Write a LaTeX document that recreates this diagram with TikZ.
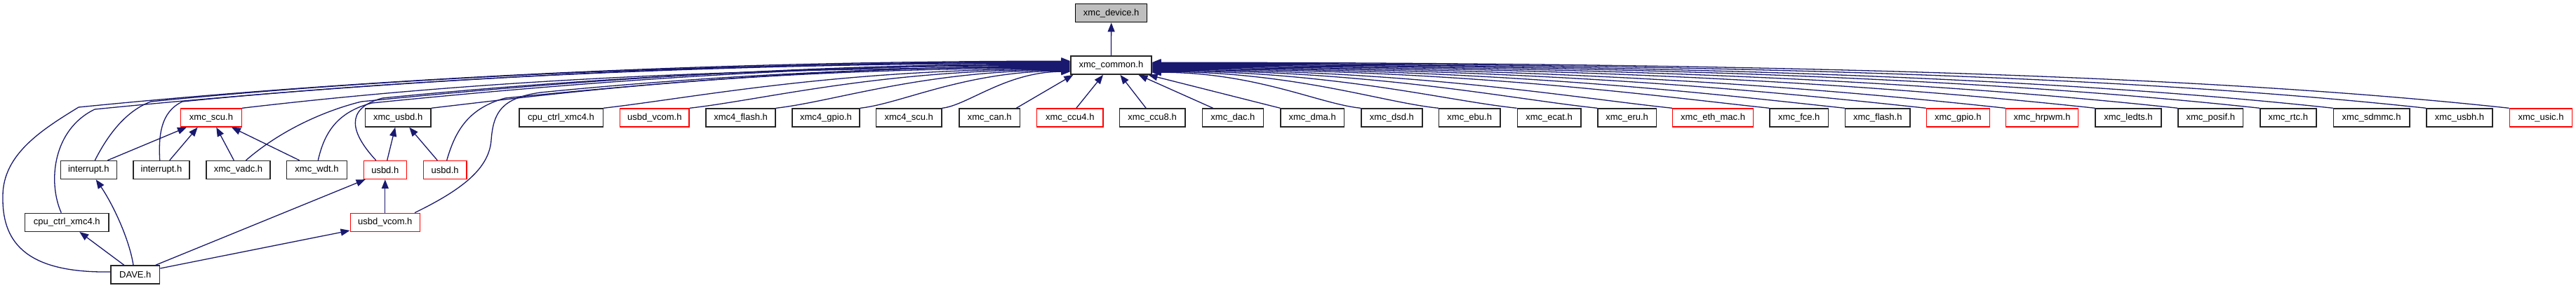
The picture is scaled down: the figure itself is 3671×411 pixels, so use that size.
\documentclass[tikz,border=0pt]{standalone}
\usepackage{fontspec}
\setmainfont{Liberation Sans}
\usetikzlibrary{arrows.meta}
\definecolor{edgec}{RGB}{25,25,112}
\definecolor{devfill}{RGB}{191,191,191}
\tikzset{
  box/.style={draw=black!85, line width=1.4pt, minimum height=26pt, inner sep=0pt, fill=white, font=\fontsize{13}{15}\selectfont},
  redbox/.style={box, draw=red},
  dep/.style={draw=edgec, line width=1.3pt, -{Triangle[length=13pt,width=10pt]}}
}
\begin{document}
\begin{tikzpicture}[x=1pt,y=-1pt]
\useasboundingbox[fill=white] (0,0) rectangle (3671,411);
% row 0 / 1
\node[box, fill=devfill, draw=black, minimum width=102pt] (device) at (1583.7,18.7) {xmc\_device.h};
\node[box, minimum width=114.8pt] (common) at (1583.4,93.2) {xmc\_common.h};
% row 2
\node[redbox, minimum width=86.7pt] (scu) at (301,168) {xmc\_scu.h};
\node[box, minimum width=93.4pt] (usbdx) at (567.2,168) {xmc\_usbd.h};
\node[box, minimum width=119.4pt] (cpuB) at (799.5,168) {cpu\_ctrl\_xmc4.h};
\node[redbox, minimum width=98.4pt] (vcomB) at (932.9,168) {usbd\_vcom.h};
\node[box, minimum width=99pt] (flashF) at (1055.6,168) {xmc4\_flash.h};
\node[box, minimum width=96pt] (gpioF) at (1177,168) {xmc4\_gpio.h};
\node[box, minimum width=93.3pt] (scuF) at (1295.2,168) {xmc4\_scu.h};
\node[box, minimum width=86.8pt] (can) at (1410.2,168) {xmc\_can.h};
\node[redbox, minimum width=94.3pt] (ccuF) at (1524.8,168) {xmc\_ccu4.h};
\node[box, minimum width=93.4pt] (ccuE) at (1642.1,168) {xmc\_ccu8.h};
\node[box, minimum width=87.2pt] (dac) at (1756.9,168) {xmc\_dac.h};
\node[box, minimum width=90.3pt] (dma) at (1870.2,168) {xmc\_dma.h};
\node[box, minimum width=87.2pt] (dsd) at (1983.4,168) {xmc\_dsd.h};
\node[box, minimum width=87.3pt] (ebu) at (2094.2,168) {xmc\_ebu.h};
\node[box, minimum width=90.8pt] (ecat) at (2207.6,168) {xmc\_ecat.h};
\node[box, minimum width=83.2pt] (eru) at (2318.6,168) {xmc\_eru.h};
\node[redbox, minimum width=114.8pt] (ethmac) at (2441.1,168) {xmc\_eth\_mac.h};
\node[box, minimum width=83.6pt] (fce) at (2563.8,168) {xmc\_fce.h};
\node[box, minimum width=92.4pt] (flash) at (2675.8,168) {xmc\_flash.h};
\node[redbox, minimum width=89.8pt] (gpio) at (2790.3,168) {xmc\_gpio.h};
\node[redbox, minimum width=103pt] (hrpwm) at (2910,168) {xmc\_hrpwm.h};
\node[box, minimum width=93.7pt] (ledts) at (3033,168) {xmc\_ledts.h};
\node[box, minimum width=92.7pt] (posif) at (3150.3,168) {xmc\_posif.h};
\node[box, minimum width=80pt] (rtc) at (3260.8,168) {xmc\_rtc.h};
\node[box, minimum width=108.4pt] (sdmmc) at (3379.6,168) {xmc\_sdmmc.h};
\node[box, minimum width=94.3pt] (usbh) at (3505,168) {xmc\_usbh.h};
\node[redbox, minimum width=89.5pt] (usic) at (3621,168) {xmc\_usic.h};
% row 3
\node[box, minimum width=80pt] (intA) at (126.3,242.5) {interrupt.h};
\node[box, minimum width=80pt] (intB) at (230,242.5) {interrupt.h};
\node[box, minimum width=91.3pt] (vadc) at (339.5,242.5) {xmc\_vadc.h};
\node[box, minimum width=85.7pt] (wdt) at (451.5,242.5) {xmc\_wdt.h};
\node[redbox, minimum width=61pt] (usbdA) at (548.8,242.5) {usbd.h};
\node[redbox, minimum width=61.7pt] (usbdB) at (634.2,242.5) {usbd.h};
% row 4
\node[box, minimum width=119.3pt] (cpuC) at (95.3,317.3) {cpu\_ctrl\_xmc4.h};
\node[redbox, minimum width=99pt] (vcomC) at (548.8,317.3) {usbd\_vcom.h};
% row 5
\node[box, minimum width=69.7pt] (dave) at (192.8,392) {DAVE.h};

% edges
\draw[dep] (common.north) -- (device.south);
% right side straight
\draw[dep] ([xshift=9pt]ccuF.north) -- ([xshift=-11.4pt]common.south);
\draw[dep] ([xshift=-9pt]ccuE.north) -- ([xshift=13pt]common.south);
\draw[dep] ([xshift=16pt]dac.north west) -- ([xshift=-19pt]common.south east);
\draw[dep] (dma.north west) -- ([xshift=-5pt]common.south east);
% right side curves
\draw[dep] (dsd.north west) .. controls (1880.0,148.4) and (1790.4,103.2) .. ([yshift=-10pt]common.east);
\draw[dep] (ebu.north west) .. controls (1968.6,146.0) and (1845.8,102.2) .. ([yshift=-9pt]common.east);
\draw[dep] (ecat.north west) .. controls (2058.0,143.5) and (1901.6,101.2) .. ([yshift=-8pt]common.east);
\draw[dep] (eru.north west) .. controls (2149.8,141.0) and (1959.0,100.2) .. ([yshift=-7pt]common.east);
\draw[dep] (ethmac.north west) .. controls (2235.2,138.7) and (2012.4,99.2) .. ([yshift=-6pt]common.east);
\draw[dep] (fce.north west) .. controls (2345.8,135.6) and (2081.5,98.2) .. ([yshift=-5pt]common.east);
\draw[dep] (flash.north west) .. controls (2431.9,133.3) and (2135.3,97.2) .. ([yshift=-4pt]common.east);
\draw[dep] (gpio.north west) .. controls (2524.5,130.7) and (2193.2,96.2) .. ([yshift=-3pt]common.east);
\draw[dep] (hrpwm.north west) .. controls (2614.9,128.2) and (2249.7,95.2) .. ([yshift=-2pt]common.east);
\draw[dep] (ledts.north west) .. controls (2717.1,125.4) and (2313.6,94.2) .. ([yshift=-1pt]common.east);
\draw[dep] (posif.north west) .. controls (2811.3,122.8) and (2372.5,93.2) .. (common.east);
\draw[dep] (rtc.north west) .. controls (2904.8,120.2) and (2430.9,92.2) .. ([yshift=1pt]common.east);
\draw[dep] (sdmmc.north west) .. controls (2988.5,117.9) and (2483.2,91.2) .. ([yshift=2pt]common.east);
\draw[dep] (usbh.north west) .. controls (3094.4,115.0) and (2549.4,90.2) .. ([yshift=3pt]common.east);
\draw[dep] (usic.north west) .. controls (3189.2,112.4) and (2608.6,89.2) .. ([yshift=4pt]common.east);
% left side row 2
\draw[dep] ([xshift=-6pt]can.north east) -- ([xshift=4pt]common.south west);
\draw[dep] (scuF.north east) .. controls (1378.6,150.6) and (1433.9,102.2) .. ([yshift=-9pt]common.west);
\draw[dep] (gpioF.north east) .. controls (1285.2,147.8) and (1375.5,101.2) .. ([yshift=-8pt]common.west);
\draw[dep] (flashF.north east) .. controls (1189.3,144.9) and (1315.5,100.2) .. ([yshift=-7pt]common.west);
\draw[dep] (vcomB.north east) .. controls (1090.9,142) and (1254.1,99.2) .. ([yshift=-6pt]common.west);
\draw[dep] (cpuB.north east) .. controls (992.6,139) and (1192.6,98.2) .. ([yshift=-5pt]common.west);
\draw[dep] (usbdx.north east) .. controls (796.2,133.1) and (1069.9,97.2) .. ([yshift=-4pt]common.west);
\draw[dep] (scu.north east) .. controls (580.7,126.6) and (935.2,96.2) .. ([yshift=-3pt]common.west);
% long left curves
\draw[dep] ([yshift=4pt]dave.west) .. controls (30,390) and (3,340) .. (4,280) .. controls (4,220) and (60,185) .. (112,153) .. controls (465.5,117.7) and (960.4,87.2) .. ([yshift=6pt]common.west);
\draw[dep] ([xshift=-8pt]cpuC.north) .. controls (68,260) and (75,185) .. (135,156) .. controls (482.8,121.2) and (969.6,88.2) .. ([yshift=5pt]common.west);
\draw[dep] ([xshift=9pt]intA.north) .. controls (150,200) and (175,160) .. (215,145) .. controls (542.8,112.2) and (1001.6,89.2) .. ([yshift=4pt]common.west);
\draw[dep] ([xshift=-2.3pt]intB.north) .. controls (226,195) and (228,160) .. (260,145) .. controls (576.5,113.4) and (1019.6,90.2) .. ([yshift=3pt]common.west);
\draw[dep] ([xshift=11pt]vadc.north) .. controls (395,190) and (455,160) .. (515,145) .. controls (767.8,119.7) and (1121.6,91.2) .. ([yshift=2pt]common.west);
\draw[dep] ([xshift=1.8pt]wdt.north) .. controls (462,190) and (480,160) .. (530,147) .. controls (779,122.1) and (1127.6,92.2) .. ([yshift=1pt]common.west);
\draw[dep] ([xshift=-13pt]usbdA.north) .. controls (500,190) and (490,155) .. (545,140) .. controls (790.3,115.5) and (1133.6,93.2) .. (common.west);
\draw[dep] ([xshift=2.5pt]usbdB.north) .. controls (648,190) and (665,155) .. (720,140) .. controls (921.5,119.9) and (1203.6,94.2) .. ([yshift=-1pt]common.west);
\draw[dep] ([xshift=-8pt]vcomC.north east) .. controls (660,270) and (697,240) .. (700,200) .. controls (703,160) and (715,140) .. (770,132) .. controls (959,113.1) and (1223.6,95.2) .. ([yshift=-2pt]common.west);
% row 3 to scu / xmc_usbd
\draw[dep] ([xshift=27pt]intA.north) -- ([xshift=9pt]scu.south west);
\draw[dep] ([xshift=11.7pt]intB.north) -- ([xshift=-19.3pt]scu.south);
\draw[dep] ([xshift=-6.2pt]vadc.north) -- ([xshift=7.3pt]scu.south);
\draw[dep] ([xshift=-24.8pt]wdt.north) -- ([xshift=29pt]scu.south);
\draw[dep] ([xshift=2.9pt]usbdA.north) -- ([xshift=-4pt]usbdx.south);
\draw[dep] ([xshift=-10.9pt]usbdB.north) -- ([xshift=16pt]usbdx.south);
\draw[dep] (vcomC.north) -- (usbdA.south);
% DAVE edges
\draw[dep] ([xshift=-16pt]dave.north) -- ([xshift=18pt]cpuC.south);
\draw[dep] ([xshift=-2.8pt]dave.north) .. controls (184,340) and (160,290) .. ([xshift=10.4pt]intA.south);
\draw[dep] ([xshift=29pt]dave.north) -- ([xshift=3pt]usbdA.south west);
\draw[dep] ([yshift=9pt]dave.east) -- ([yshift=2pt]vcomC.south west);
\end{tikzpicture}
\end{document}
